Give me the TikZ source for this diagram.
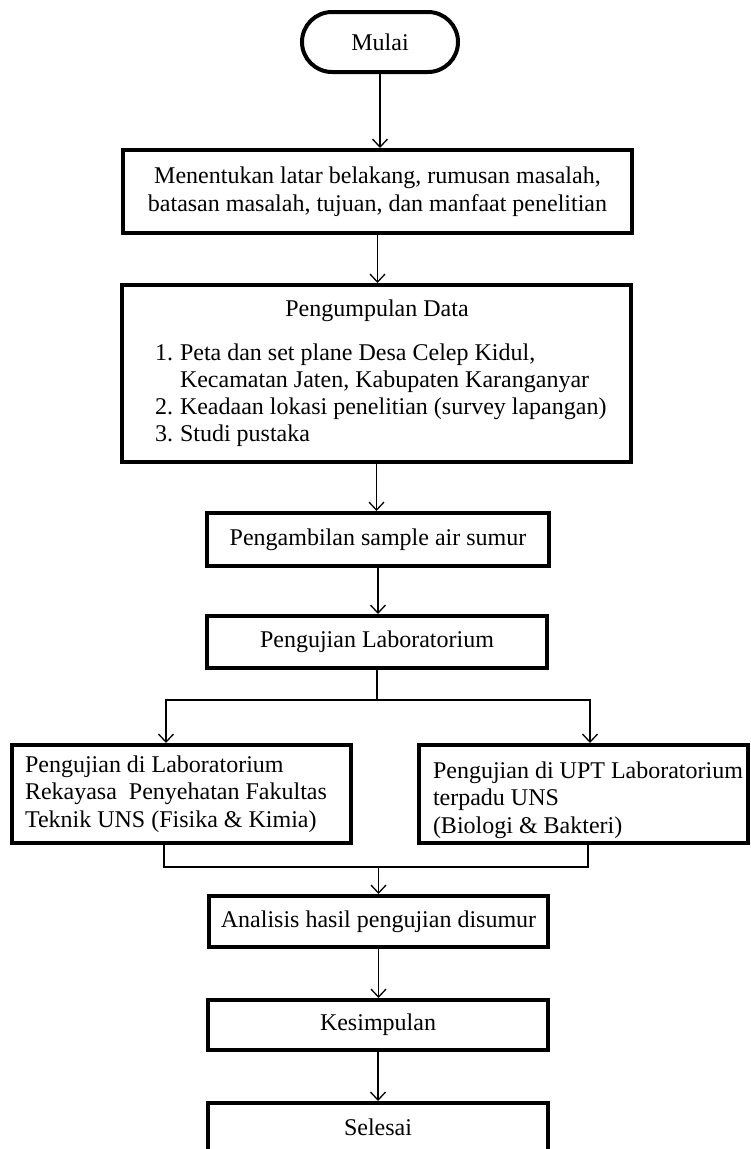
\documentclass[tikz,border=0pt]{standalone}
\usepackage{fontspec}
\setmainfont{Liberation Serif}
\usetikzlibrary{arrows.meta}
\begin{document}
\begin{tikzpicture}[x=1pt,y=-1pt,
  font=\fontsize{24}{27.5}\selectfont,
  box/.style={draw, line width=4pt, inner sep=0pt},
  conn/.style={line width=1.3pt, -{Straight Barb[length=8pt,width=15pt]}},
  plain/.style={line width=1.3pt},
  txt/.style={inner sep=0pt, outer sep=0pt},
]
\path[fill=white, use as bounding box] (0,0) rectangle (750,1149);

% nodes
\node[box, rounded corners=30pt, minimum width=156pt, minimum height=60pt] (mulai) at (380,42) {Mulai};
\node[box, minimum width=509pt, minimum height=83pt, align=center] (b2) at (377.5,191.5)
  {Menentukan latar belakang, rumusan masalah,\\batasan masalah, tujuan, dan manfaat penelitian};
\node[box, minimum width=509pt, minimum height=177pt] (b3) at (376.5,373.5) {};
\node[txt, anchor=base] (b3title) at (377,316) {Pengumpulan Data};
\node[txt, anchor=base west] (n1) at (155,360) {1.};
\node[txt, anchor=base west] (t1) at (180,360) {Peta dan set plane Desa Celep Kidul,};
\node[txt, anchor=base west] (t1b) at (180,387) {Kecamatan Jaten, Kabupaten Karanganyar};
\node[txt, anchor=base west] (n2) at (155,414) {2.};
\node[txt, anchor=base west] (t2) at (180,414) {Keadaan lokasi penelitian (survey lapangan)};
\node[txt, anchor=base west] (n3) at (155,441) {3.};
\node[txt, anchor=base west] (t3) at (180,441) {Studi pustaka};

\node[box, minimum width=342pt, minimum height=53pt] (b4) at (378,539.5) {Pengambilan sample air sumur};
\node[box, minimum width=340pt, minimum height=52pt] (b5) at (377,642) {Pengujian Laboratorium};

\node[box, minimum width=339pt, minimum height=98pt] (b6) at (181.5,794) {};
\node[txt, anchor=west, align=left] (b6t) at (25,794)
  {Pengujian di Laboratorium\\Rekayasa\ \ Penyehatan Fakultas\\Teknik UNS (Fisika \& Kimia)};
\node[box, minimum width=329pt, minimum height=98pt] (b7) at (583.5,794) {};
\node[txt, anchor=west, align=left] (b7t) at (433,800)
  {Pengujian di UPT Laboratorium\\terpadu UNS\\(Biologi \& Bakteri)};

\node[box, minimum width=339pt, minimum height=51pt] (b8) at (378.5,921.5) {Analisis hasil pengujian disumur};
\node[box, minimum width=340pt, minimum height=50pt] (b9) at (378,1025) {Kesimpulan};
\node[box, minimum width=340pt, minimum height=49pt] (b10) at (378,1127.5) {Selesai};

% connectors
\coordinate (sL) at (166,700);
\coordinate (sR) at (590,700);
\coordinate (mL) at (164,867);
\coordinate (mR) at (588,867);

\draw[conn] (mulai.south) -- (mulai.south |- b2.north);
\draw[conn] (b2.south) -- (b2.south |- b3.north);
\draw[conn] (b3.south) -- (b3.south |- b4.north);
\draw[conn] (b4.south) -- (b4.south |- b5.north);
\draw[conn] (b5.south) |- (sL) -- (sL |- b6.north);
\draw[conn] (b5.south |- sR) -- (sR) -- (sR |- b7.north);
\draw[plain] (mL |- b6.south) -- (mL) -- (mR) -- (mR |- b7.south);
\draw[conn] (b8.north |- mL) -- (b8.north);
\draw[conn] (b8.south) -- (b8.south |- b9.north);
\draw[conn] (b9.south) -- (b9.south |- b10.north);
\end{tikzpicture}
\end{document}
